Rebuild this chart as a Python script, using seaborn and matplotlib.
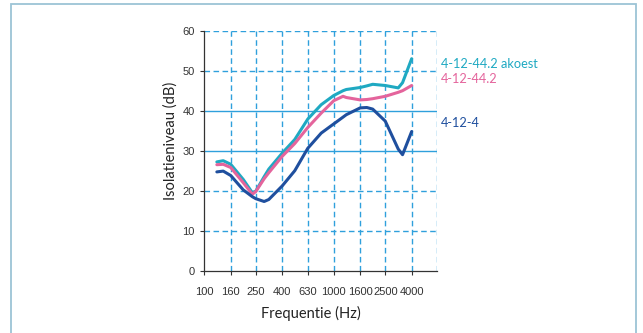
import matplotlib
matplotlib.use("Agg")
import matplotlib.pyplot as plt
import matplotlib.patches as mpatches
import matplotlib.transforms as mtrans
import seaborn as sns
import pandas as pd

# ---- data ----
freqs = [125, 140, 160, 200, 235, 250, 290, 315, 400, 500, 630, 800, 1000,
         1180, 1250, 1600, 1800, 2000, 2500, 3150, 3400, 4000]
akoest = [27.2, 27.5, 26.6, 22.8, 19.5, 19.9, 23.5, 25.4, 29.4, 32.8, 37.9, 41.5, 43.8,
          45.0, 45.3, 45.8, 46.2, 46.6, 46.3, 45.7, 47.0, 53.0]
laminated = [26.5, 26.6, 25.8, 22.0, 19.1, 19.8, 23.0, 24.5, 28.6, 31.8, 35.8, 39.4, 42.5,
             43.6, 43.3, 42.7, 42.8, 43.0, 43.6, 44.6, 45.0, 46.3]
standard = [24.7, 24.9, 23.8, 20.2, 18.5, 18.0, 17.3, 17.8, 21.2, 25.0, 30.6, 34.4, 36.7,
            38.4, 39.0, 40.7, 40.8, 40.4, 37.4, 30.4, 29.0, 34.8]
series_names = ["4-12-44.2 akoest", "4-12-44.2", "4-12-4"]
label_y = [51.8, 48.0, 37.0]
xticks = [100, 160, 250, 400, 630, 1000, 1600, 2500, 4000]
yticks = [0, 10, 20, 30, 40, 50, 60]

colors = ["#1fa9c2", "#e4649c", "#1f4f9e"]
grid_c = "#2fa0dc"

sns.set_theme(style="white")
plt.rcParams["font.family"] = ["Lato", "DejaVu Sans"]

fig = plt.figure(figsize=(6.43, 3.33), dpi=100)
fig.patch.set_facecolor("white")
ax = fig.add_axes([204.3 / 643, 1 - 270.7 / 333, 233.0 / 643, 240.0 / 333])

# frame around the whole chart
fig.patches.append(mpatches.Rectangle((11 / 643, -0.05), (635.5 - 11) / 643, (333 - 4) / 333 + 0.05,
                                      transform=fig.transFigure, fill=False,
                                      edgecolor="#9cc4d6", linewidth=1.3))

ax.set_xscale("log")
ax.set_xlim(100, 6310)
ax.set_ylim(0, 60)

# grid
for xv in xticks[1:] + [6310]:
    ax.axvline(xv, color=grid_c, lw=1.0, ls=(0, (4, 2.5)), zorder=1)
for yv in [10, 20, 50, 60]:
    ax.axhline(yv, color=grid_c, lw=1.0, ls=(0, (4, 2.5)), zorder=1)
for yv in [30, 40]:
    ax.axhline(yv, color=grid_c, lw=1.0, ls="-", zorder=1)

df = pd.DataFrame({"freq": freqs, series_names[0]: akoest,
                   series_names[1]: laminated, series_names[2]: standard})
for name, c in zip(series_names, colors):
    sns.lineplot(data=df, x="freq", y=name, ax=ax, color=c, lw=2.2, sort=False,
                 zorder=3, solid_capstyle="round", solid_joinstyle="round")

trans = mtrans.blended_transform_factory(ax.transAxes, ax.transData)
for name, c, ly in zip(series_names, colors, label_y):
    ax.text(1.017, ly, name, color=c, fontsize=9.2, transform=trans,
            va="center", ha="left", clip_on=False, family=["Lato", "DejaVu Sans"])

ax.set_xticks(xticks)
ax.set_xticklabels([str(v) for v in xticks])
ax.xaxis.set_minor_locator(matplotlib.ticker.NullLocator())
ax.set_yticks(yticks)
ax.set_yticklabels([str(v) for v in yticks])
for lab in ax.get_xticklabels() + ax.get_yticklabels():
    lab.set_family(["Liberation Sans", "DejaVu Sans"])
    lab.set_fontsize(8)
    lab.set_color("#333333")

ax.tick_params(axis="x", direction="out", length=3, width=0.8, color="#333333", pad=9, bottom=True)
ax.tick_params(axis="y", direction="out", length=3, width=0.8, color="#333333", pad=4, left=True)

for s in ["top", "right"]:
    ax.spines[s].set_visible(False)
for s in ["left", "bottom"]:
    ax.spines[s].set_color("#333333")
    ax.spines[s].set_linewidth(0.9)

ax.set_xlabel("Frequentie (Hz)", fontsize=10.5, color="#222222")
ax.set_ylabel("Isolatieniveau (dB)", fontsize=10.5, color="#222222")
ax.xaxis.set_label_coords((310.8 - 204.3) / 233.0, -(313 - 270.7) / 240.0)
ax.yaxis.set_label_coords(-(204.3 - 171) / 233.0, (270.7 - 141) / 240.0)
ax.xaxis.label.set_va("center")
ax.yaxis.label.set_va("center")

fig.savefig("out.png", dpi=100, facecolor="white")
